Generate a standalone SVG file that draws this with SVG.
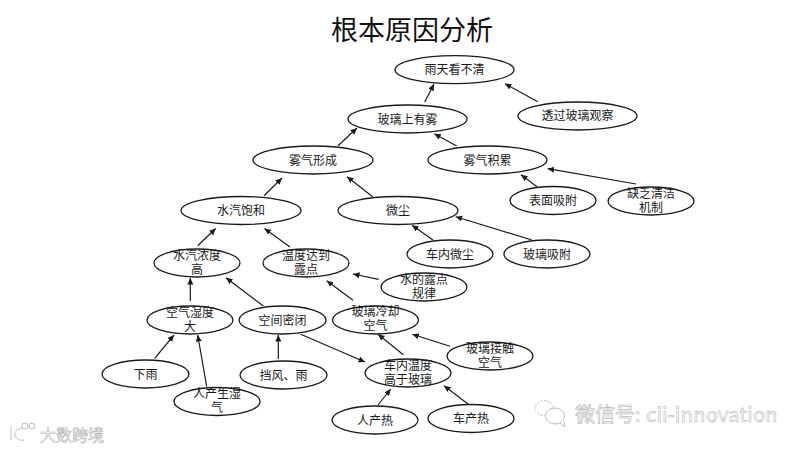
<svg xmlns="http://www.w3.org/2000/svg" width="800" height="450" viewBox="0 0 800 450">
<style>
.n ellipse{fill:#fff;stroke:#1a1a1a;stroke-width:1.3}
.n text{font:12px "Noto Sans CJK SC","Liberation Sans",sans-serif;fill:#1a1a1a;text-anchor:middle}
#connectors line{stroke:#1a1a1a;stroke-width:1.2;marker-end:url(#a)}
.wm{font-family:"Noto Sans CJK SC","Liberation Sans",sans-serif;fill:#fff;stroke:#a8a8a8;stroke-width:.5}
.ic{fill:#fff;stroke:#bcbcbc;stroke-width:1}
</style>
<defs><marker id="a" markerUnits="userSpaceOnUse" markerWidth="8" markerHeight="8" refX="6.5" refY="3" orient="auto"><path d="M0 0L6.5 3L0 6Z" fill="#1a1a1a"/></marker></defs>
<rect width="800" height="450" fill="#fff"/>
<text x="412" y="40" font-family="'Noto Sans CJK SC',sans-serif" font-size="27" text-anchor="middle" fill="#111">根本原因分析</text>
<g id="nodes">
<g id="n1" class="n"><ellipse cx="454.5" cy="69.7" rx="59.5" ry="14"/><text x="454.5" y="74">雨天看不清</text></g>
<g id="n2" class="n"><ellipse cx="407.5" cy="119" rx="59.5" ry="14"/><text x="407.5" y="123.5">玻璃上有雾</text></g>
<g id="n3" class="n"><ellipse cx="577.5" cy="116" rx="59.5" ry="14"/><text x="577.5" y="120">透过玻璃观察</text></g>
<g id="n4" class="n"><ellipse cx="313" cy="160" rx="60" ry="14"/><text x="313" y="164.5">雾气形成</text></g>
<g id="n5" class="n"><ellipse cx="487.5" cy="160" rx="59.5" ry="14"/><text x="487.5" y="164.5">雾气积累</text></g>
<g id="n6" class="n"><ellipse cx="241" cy="210.5" rx="60" ry="14"/><text x="241" y="215">水汽饱和</text></g>
<g id="n7" class="n"><ellipse cx="398" cy="210.5" rx="60" ry="14"/><text x="398" y="215">微尘</text></g>
<g id="n8" class="n"><ellipse cx="553" cy="200.5" rx="43" ry="14"/><text x="553" y="205">表面吸附</text></g>
<g id="n9" class="n"><ellipse cx="651" cy="201" rx="43" ry="14"/><text x="651" y="198">缺乏清洁</text><text x="651" y="212">机制</text></g>
<g id="n10" class="n"><ellipse cx="450" cy="254" rx="43" ry="14"/><text x="450" y="258.5">车内微尘</text></g>
<g id="n11" class="n"><ellipse cx="547" cy="254" rx="43" ry="14"/><text x="547" y="258.5">玻璃吸附</text></g>
<g id="n12" class="n"><ellipse cx="197" cy="263" rx="43" ry="14"/><text x="197" y="260">水汽浓度</text><text x="197" y="274">高</text></g>
<g id="n13" class="n"><ellipse cx="306" cy="263" rx="43" ry="14"/><text x="306" y="260">温度达到</text><text x="306" y="274">露点</text></g>
<g id="n14" class="n"><ellipse cx="424" cy="287" rx="43" ry="14"/><text x="424" y="284">水的露点</text><text x="424" y="298">规律</text></g>
<g id="n15" class="n"><ellipse cx="190" cy="320" rx="43" ry="14"/><text x="190" y="317">空气湿度</text><text x="190" y="331">大</text></g>
<g id="n16" class="n"><ellipse cx="282.5" cy="320" rx="43.5" ry="14"/><text x="282.5" y="324.5">空间密闭</text></g>
<g id="n17" class="n"><ellipse cx="375.5" cy="320" rx="43" ry="14"/><text x="375.5" y="316">玻璃冷却</text><text x="375.5" y="330">空气</text></g>
<g id="n18" class="n"><ellipse cx="490" cy="356" rx="43" ry="14"/><text x="490" y="352.5">玻璃接触</text><text x="490" y="366.5">空气</text></g>
<g id="n19" class="n"><ellipse cx="145.5" cy="374" rx="43.5" ry="14"/><text x="145.5" y="378.5">下雨</text></g>
<g id="n20" class="n"><ellipse cx="283.5" cy="375" rx="43.5" ry="14"/><text x="283.5" y="379.5">挡风、雨</text></g>
<g id="n21" class="n"><ellipse cx="408" cy="373" rx="43" ry="14"/><text x="408" y="369.5">车内温度</text><text x="408" y="383.5">高于玻璃</text></g>
<g id="n22" class="n"><ellipse cx="217" cy="401.5" rx="43" ry="14"/><text x="217" y="398">人产生湿</text><text x="217" y="412">气</text></g>
<g id="n23" class="n"><ellipse cx="375" cy="420" rx="43" ry="14"/><text x="375" y="424.5">人产热</text></g>
<g id="n24" class="n"><ellipse cx="471" cy="418.5" rx="43" ry="14"/><text x="471" y="423">车产热</text></g>
</g>
<g id="connectors">
<line x1="424.7" y1="102" x2="434" y2="84"/>
<line x1="537.7" y1="101.7" x2="505" y2="83.7"/>
<line x1="456.7" y1="146" x2="434.3" y2="133.7"/>
<line x1="338" y1="145.7" x2="357" y2="128"/>
<line x1="264" y1="195.7" x2="282" y2="178"/>
<line x1="372.7" y1="196.7" x2="347" y2="176.7"/>
<line x1="197.7" y1="245.7" x2="215.7" y2="228.5"/>
<line x1="290" y1="247" x2="264.5" y2="228.5"/>
<line x1="537" y1="186.7" x2="521" y2="174.7"/>
<line x1="636" y1="184" x2="547.7" y2="168.7"/>
<line x1="433" y1="240" x2="412" y2="225.3"/>
<line x1="531.7" y1="240" x2="455.7" y2="216.7"/>
<line x1="190.3" y1="301" x2="190.3" y2="278"/>
<line x1="263.3" y1="306" x2="226" y2="277.7"/>
<line x1="154.7" y1="358.3" x2="174" y2="335"/>
<line x1="206.7" y1="386.7" x2="197.7" y2="335"/>
<line x1="278.3" y1="359" x2="278.3" y2="335"/>
<line x1="300.7" y1="334.3" x2="365" y2="362"/>
<line x1="378.7" y1="279.3" x2="353" y2="274"/>
<line x1="353" y1="300.3" x2="326.7" y2="280.7"/>
<line x1="403.3" y1="354.7" x2="378" y2="334.3"/>
<line x1="450" y1="346.3" x2="412.3" y2="334.3"/>
<line x1="378" y1="405" x2="390.7" y2="389"/>
<line x1="468.3" y1="404.3" x2="444" y2="385.7"/>
</g>
<g id="watermark">
<ellipse class="ic" cx="544" cy="408" rx="9" ry="7.5" stroke-dasharray="2 1.5"/>
<ellipse class="ic" cx="555" cy="416" rx="9.5" ry="8"/>
<path class="ic" d="M560 423l5 4-1-6"/>
<text class="wm" x="575" y="422" font-size="20">微信号:</text>
<text class="wm" x="646" y="422" font-size="20.5" font-family="'Liberation Sans',sans-serif">cii-innovation</text>
<path class="ic" fill="none" d="M11 426v14M22 428c-6 1-8 5-7 8s5 5 9 4"/>
<circle class="ic" cx="25" cy="426" r="3"/><circle class="ic" cx="32" cy="426" r="3"/>
<text class="wm" x="40" y="441" font-size="16">大数跨境</text>
</g>
</svg>
